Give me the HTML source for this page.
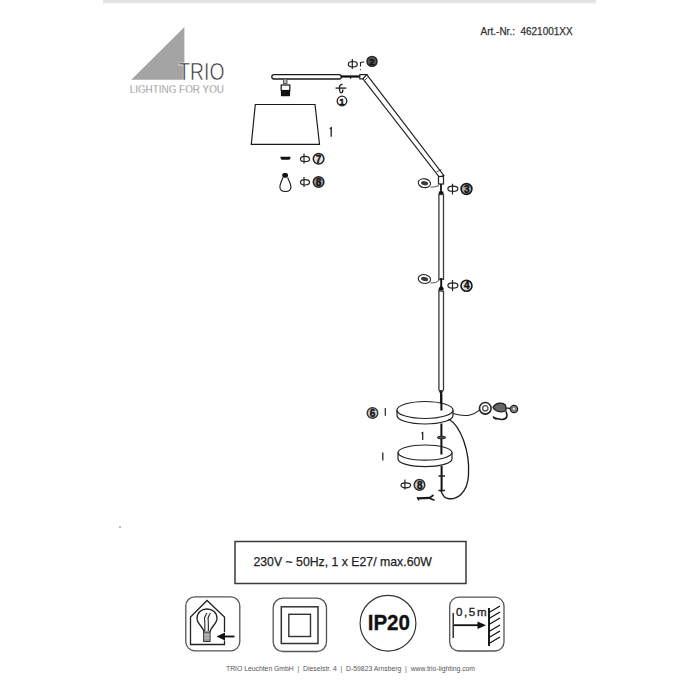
<!DOCTYPE html>
<html><head><meta charset="utf-8">
<style>
html,body{margin:0;padding:0;background:#fff;width:700px;height:700px;overflow:hidden;}
svg{display:block;position:absolute;left:0;top:0;}
text{font-family:"Liberation Sans",sans-serif;}
</style></head>
<body>
<svg width="700" height="700" viewBox="0 0 700 700">
<defs>
<linearGradient id="tb" x1="0" y1="0" x2="0" y2="1">
<stop offset="0" stop-color="#e0e0e0"/><stop offset="0.6" stop-color="#e8e8e8"/><stop offset="1" stop-color="#f8f8f8"/>
</linearGradient>
</defs>
<!-- top bar -->
<rect x="103" y="0" width="493" height="4" fill="url(#tb)"/>

<!-- logo -->
<polygon points="131.3,79.7 184.4,27.1 184.4,79.7" fill="#a4a4a4"/>
<text x="178.3" y="80.2" font-size="23.2" fill="#2a2a2a" stroke="#fff" stroke-width="0.6" textLength="46.2" lengthAdjust="spacingAndGlyphs">TRIO</text>
<text x="129.7" y="92.9" font-size="11.1" fill="#606060" stroke="#fff" stroke-width="0.35" textLength="94.3" lengthAdjust="spacingAndGlyphs">LIGHTING FOR YOU</text>

<!-- Art.-Nr -->
<text x="480.6" y="35.2" font-size="10.3" fill="#333" stroke="#333" stroke-width="0.25" textLength="92" lengthAdjust="spacingAndGlyphs" style="white-space:pre">Art.-Nr.:  4621001XX</text>

<!-- horizontal arm -->
<rect x="271.8" y="74.6" width="69.5" height="4.4" rx="2.2" fill="#fff" stroke="#1a1a1a" stroke-width="1.3"/>
<line x1="341" y1="76.5" x2="360" y2="76.5" stroke="#111" stroke-width="2.3"/>
<line x1="350.6" y1="76" x2="350.6" y2="78.7" stroke="#111" stroke-width="1.1"/>
<rect x="359.8" y="74.6" width="7" height="4.3" fill="#fff" stroke="#222" stroke-width="1.2"/>
<!-- socket -->
<rect x="283.5" y="79" width="3.5" height="4.5" fill="#bbb" stroke="#333" stroke-width="0.8"/>
<rect x="281.2" y="85" width="8.6" height="5.5" fill="#fff" stroke="#111" stroke-width="1.2"/>
<rect x="280.9" y="90" width="9.2" height="6.3" rx="0.8" fill="#111"/>
<!-- diagonal arm -->
<polygon points="366.8,74.6 443.8,175.5 439.3,177 362.9,78.9" fill="#fff" stroke="#222" stroke-width="1.2"/>
<line x1="365" y1="80" x2="367.5" y2="77.5" stroke="#222" stroke-width="0.8"/>
<line x1="436.5" y1="172" x2="441.5" y2="169.5" stroke="#222" stroke-width="0.8"/>
<!-- elbow to pole -->
<rect x="438.5" y="176.5" width="5" height="7.5" fill="#fff" stroke="#222" stroke-width="1.2"/>
<line x1="441" y1="184" x2="441" y2="192" stroke="#111" stroke-width="1.8"/>
<rect x="438.8" y="191.5" width="4.6" height="3.2" fill="#111"/>
<!-- pole -->
<rect x="438.9" y="194.5" width="4.6" height="84.8" fill="#fff" stroke="#3a3a3a" stroke-width="1.3"/>
<line x1="441.2" y1="278" x2="441.2" y2="288" stroke="#111" stroke-width="1.9"/>
<path d="M438.8 290.5 V288 L441.2 285.5 L443.6 288 V290.5 Z" fill="#111"/>
<path d="M438.9 290.5 V389.5 L441 394 L443.5 389.5 V291.5 Z" fill="#fff" stroke="#3a3a3a" stroke-width="1.3"/>
<line x1="441" y1="390" x2="441" y2="410" stroke="#111" stroke-width="1.7"/>

<!-- nuts with wire -->
<ellipse cx="424.4" cy="183.2" rx="6.2" ry="4.4" transform="rotate(10 424.4 183.2)" fill="#fff" stroke="#222" stroke-width="1.1"/>
<ellipse cx="424.6" cy="183.2" rx="3.6" ry="2.1" transform="rotate(10 424.6 183.2)" fill="#3a3a3a"/>
<path d="M430.5 187.2 Q435 187.2 439 185.6" fill="none" stroke="#444" stroke-width="0.9"/>
<ellipse cx="424.4" cy="279" rx="6.2" ry="4.4" transform="rotate(10 424.4 279)" fill="#fff" stroke="#222" stroke-width="1.1"/>
<ellipse cx="424.6" cy="279" rx="3.6" ry="2.1" transform="rotate(10 424.6 279)" fill="#3a3a3a"/>
<path d="M430.5 283 Q436 283.5 439.5 280.2" fill="none" stroke="#444" stroke-width="0.9"/>

<!-- shade -->
<polygon points="255.3,104.5 315,104.5 319.5,144.3 251.3,144.3" fill="#fff" stroke="#1a1a1a" stroke-width="1.2"/>
<path d="M329.8 128.8 L331.2 127.8 V136.8" fill="none" stroke="#1a1a1a" stroke-width="1.3"/>

<!-- dash icon 7 -->
<path d="M280.3 156.8 H290.6 L290 159.4 Q285.5 160.2 281 159.4 Z" fill="#111"/>
<!-- bulb -->
<rect x="282.2" y="172.9" width="5.8" height="4.8" rx="2" fill="#111"/>
<path d="M283 177.5 C 281.5 181 279.9 184 279.9 187 C 279.9 190 282.3 191.5 285.4 191.5 C 288.5 191.5 290.9 190 290.9 187 C 290.9 184 289.2 181 287.6 177.5" fill="none" stroke="#1a1a1a" stroke-width="1.1"/>

<!-- phi symbols -->
<g fill="none" stroke="#222" stroke-width="1.2">
<ellipse cx="305" cy="159" rx="4.5" ry="2.7"/><line x1="304" y1="153.5" x2="304" y2="163.5"/>
<ellipse cx="305" cy="182.3" rx="4.5" ry="2.7"/><line x1="304" y1="177" x2="304" y2="187"/>
<ellipse cx="352.8" cy="64.2" rx="4.5" ry="2.7"/><line x1="352.3" y1="59" x2="352.3" y2="69"/>
<ellipse cx="452.9" cy="188.8" rx="5" ry="2.6"/><line x1="452.5" y1="183.7" x2="452.5" y2="194.5"/>
<ellipse cx="452.9" cy="285.5" rx="5" ry="2.6"/><line x1="452.5" y1="280" x2="452.5" y2="291"/>
<ellipse cx="405.8" cy="485.3" rx="4.8" ry="2.5"/><line x1="404.9" y1="479.5" x2="404.9" y2="489.5"/>
</g>
<!-- r mark near 2 -->
<path d="M360.5 66.5 V62.5 Q362 61.8 364.3 62" fill="none" stroke="#222" stroke-width="1.1"/>
<circle cx="360.4" cy="69.6" r="0.6" fill="#333"/>

<!-- circled numbers -->
<g font-weight="bold" text-anchor="middle" stroke="#111" stroke-width="0.4">
<circle cx="318.6" cy="158.8" r="5.3" fill="#e4e4e4" stroke="#222" stroke-width="1.5"/><text x="318.6" y="162.5" font-size="10" fill="#111">7</text>
<circle cx="318.6" cy="182" r="5.3" fill="#999" stroke="#222" stroke-width="1.5"/><text x="318.6" y="185.7" font-size="10" fill="#111">8</text>
<circle cx="372" cy="61.4" r="5" fill="#555" stroke="#222" stroke-width="1.4"/><text x="372" y="65" font-size="9.5" fill="#111">2</text>
<circle cx="466.5" cy="189" r="5.4" fill="#aaa" stroke="#1a1a1a" stroke-width="1.6"/><text x="466.8" y="192.7" font-size="10" fill="#111">3</text>
<circle cx="466.5" cy="285.7" r="5.5" fill="#ddd" stroke="#1a1a1a" stroke-width="1.6"/><text x="466.8" y="289.4" font-size="10" fill="#111">4</text>
<circle cx="372.5" cy="413" r="5.3" fill="#ccc" stroke="#333" stroke-width="1.4"/><text x="372.5" y="416.6" font-size="10" fill="#111">6</text>
<circle cx="419.5" cy="484.9" r="5.3" fill="#ccc" stroke="#333" stroke-width="1.5"/><text x="419.7" y="488.5" font-size="10" fill="#111">8</text>
<circle cx="342" cy="101" r="4.8" fill="#fff" stroke="#222" stroke-width="1.3"/><text x="342" y="104.5" font-size="9.5" fill="#111">1</text>
</g>
<!-- symbol above 1 -->
<line x1="335.6" y1="88.1" x2="346.3" y2="88.1" stroke="#1a1a1a" stroke-width="1.3"/>
<path d="M342.5 84.5 Q339.5 84 339.5 88 Q339.5 92.8 341.2 92.8 Q342.9 92.8 342.9 89.5" fill="none" stroke="#1a1a1a" stroke-width="1.3"/>

<!-- upper disc -->
<path d="M397 410 V415.5 A28 8.5 0 0 0 453 415.5 V410" fill="#fff" stroke="#222" stroke-width="1.2"/>
<ellipse cx="425" cy="410" rx="28" ry="8.5" fill="#fff" stroke="#222" stroke-width="1.2"/>
<line x1="441.4" y1="394" x2="441.4" y2="410.5" stroke="#111" stroke-width="2"/>
<path d="M385.3 408 V415.8" fill="none" stroke="#222" stroke-width="1.2"/>
<!-- lower disc -->
<path d="M398 452.6 V459 A27 7.6 0 0 0 452 459 V452.6" fill="#fff" stroke="#222" stroke-width="1.2"/>
<ellipse cx="425" cy="452.6" rx="27" ry="7.6" fill="#fff" stroke="#222" stroke-width="1.2"/>
<!-- rod between -->
<line x1="441.4" y1="423.5" x2="441.4" y2="454.5" stroke="#111" stroke-width="2"/>
<ellipse cx="441.5" cy="437.5" rx="4.3" ry="1.3" fill="#555" stroke="#222" stroke-width="1"/>
<path d="M421.5 433.2 L422.7 432.5 V440" fill="none" stroke="#1a1a1a" stroke-width="1.2"/>
<path d="M382.8 452.6 V460.4" fill="none" stroke="#1a1a1a" stroke-width="1.2"/>
<line x1="441.6" y1="466" x2="441.6" y2="491.5" stroke="#111" stroke-width="2"/>
<line x1="438.5" y1="476" x2="445" y2="476" stroke="#222" stroke-width="1.5"/>
<line x1="438.5" y1="490.5" x2="445" y2="490.5" stroke="#222" stroke-width="1.5"/>
<!-- cable -->
<path d="M448.6 419 C 461 426 470 452 468.5 475 C 467.5 494 456 500 448 498.5 C 444 498 442 494 440.8 490.5" fill="none" stroke="#1a1a1a" stroke-width="1.3"/>
<path d="M452.9 413.5 C 458 415 464 416.5 470 415 C 475 414 477 412 479.5 410" fill="none" stroke="#222" stroke-width="1.1"/>
<!-- switch -->
<circle cx="485.3" cy="408.3" r="5.8" fill="#fff" stroke="#222" stroke-width="1.6"/>
<circle cx="485.3" cy="408.3" r="2.7" fill="none" stroke="#555" stroke-width="1.3"/>
<!-- plug -->
<path d="M493 407.5 C 495.5 402.5 502.5 402 505.5 405 L 506 410.5 C 503 412.5 496 412.5 493 407.5 Z" fill="#666" stroke="#222" stroke-width="1.3"/>
<line x1="505.5" y1="408" x2="511" y2="408.5" stroke="#222" stroke-width="1.3"/>
<circle cx="514" cy="409" r="3.6" fill="#888" stroke="#222" stroke-width="1.4"/>
<circle cx="514" cy="408.8" r="1" fill="#eee"/>
<path d="M506 411.5 C 508 416 507 419.5 502 419.5 C 499 419.5 497 418.2 493.5 418" fill="none" stroke="#1a1a1a" stroke-width="1.6"/>
<path d="M493 416.5 L 496.5 419.5" stroke="#1a1a1a" stroke-width="1.6"/>
<!-- wrench -->
<path d="M417.5 498.3 L430 497.8" fill="none" stroke="#1a1a1a" stroke-width="2.2"/>
<path d="M429.5 498 L433.5 495 M429.5 498.3 L434.5 500.3" fill="none" stroke="#1a1a1a" stroke-width="1.6"/>
<path d="M417 497 L419 500.5" fill="none" stroke="#1a1a1a" stroke-width="1.2"/>

<!-- dot -->
<circle cx="120" cy="527" r="0.9" fill="#999"/>

<!-- spec box -->
<rect x="235" y="541.5" width="231" height="42" fill="#fff" stroke="#3a3a3a" stroke-width="1.5"/>
<text x="253.4" y="566.2" font-size="13.6" fill="#222" stroke="#222" stroke-width="0.25" textLength="178.5" lengthAdjust="spacingAndGlyphs">230V ~ 50Hz, 1 x E27/ max.60W</text>

<!-- icon 1 -->
<rect x="185.8" y="596.8" width="54" height="54" rx="9" fill="#fff" stroke="#555" stroke-width="1.3"/>
<path d="M224.5 632 V617 L207 600.5 L190.5 617 V644.5 H224.5 V640.5" fill="none" stroke="#222" stroke-width="1.3"/>
<path d="M204 632 C 203.5 627 197 624 197 618.5 C 197 612.5 201.5 609 207 609 C 212.5 609 217 612.5 217 618.5 C 217 624 210.5 627 210 632" fill="none" stroke="#222" stroke-width="1.3"/>
<path d="M204.8 631 Q205 622 204.5 618 Q205.5 615 207 613 M208.3 631 Q208.5 622 208 618 Q209 615 210.5 613" fill="none" stroke="#222" stroke-width="1.1"/>
<rect x="203.6" y="632" width="6.5" height="9.5" fill="#999" stroke="#333" stroke-width="1"/>
<line x1="204" y1="635" x2="210" y2="635" stroke="#eee" stroke-width="0.6"/>
<line x1="204" y1="638" x2="210" y2="638" stroke="#eee" stroke-width="0.6"/>
<path d="M234.5 636.5 H223" stroke="#111" stroke-width="1.8"/>
<polygon points="216.5,636.5 225,632.5 225,640.5" fill="#111"/>

<!-- icon 2 -->
<rect x="273.2" y="598.2" width="53.3" height="53.3" rx="9.5" fill="#fff" stroke="#555" stroke-width="1.3"/>
<rect x="281.3" y="606.8" width="36.7" height="36.7" fill="none" stroke="#333" stroke-width="1.5"/>
<rect x="288.8" y="614.3" width="21.7" height="22.2" fill="none" stroke="#333" stroke-width="1.4"/>

<!-- icon 3 -->
<circle cx="388" cy="623.2" r="27.9" fill="#fff" stroke="#333" stroke-width="1.2"/>
<text x="367.7" y="629.9" font-size="21.5" font-weight="bold" fill="#111" stroke="#111" stroke-width="0.3" textLength="42.3" lengthAdjust="spacingAndGlyphs">IP20</text>

<!-- icon 4 -->
<rect x="449.7" y="597.2" width="54.3" height="53.8" rx="9" fill="#fff" stroke="#555" stroke-width="1.3"/>
<line x1="453.2" y1="613" x2="453.2" y2="638" stroke="#111" stroke-width="1.3"/>
<line x1="454" y1="625.2" x2="479" y2="625.2" stroke="#111" stroke-width="1.8"/>
<polygon points="486,625.2 477.5,621.5 477.5,629" fill="#111"/>
<text x="456" y="615.7" font-size="11.5" fill="#222" stroke="#222" stroke-width="0.35" textLength="30.5" lengthAdjust="spacing">0,5m</text>
<line x1="489" y1="608" x2="489" y2="646" stroke="#111" stroke-width="1.9"/>
<g stroke="#111" stroke-width="1.3">
<line x1="489" y1="612.5" x2="500" y2="606"/>
<line x1="489" y1="618.5" x2="500" y2="612"/>
<line x1="489" y1="624.5" x2="500" y2="618"/>
<line x1="489" y1="631.5" x2="500" y2="625"/>
<line x1="489" y1="637.5" x2="500" y2="631"/>
<line x1="489" y1="643.5" x2="500" y2="637"/>
</g>

<!-- footer -->
<text x="226" y="671" font-size="7" fill="#555" textLength="249" lengthAdjust="spacingAndGlyphs" style="white-space:pre">TRIO Leuchten GmbH  |  Dieselstr. 4  |  D-59823 Arnsberg  |  www.trio-lighting.com</text>
</svg>
</body></html>
